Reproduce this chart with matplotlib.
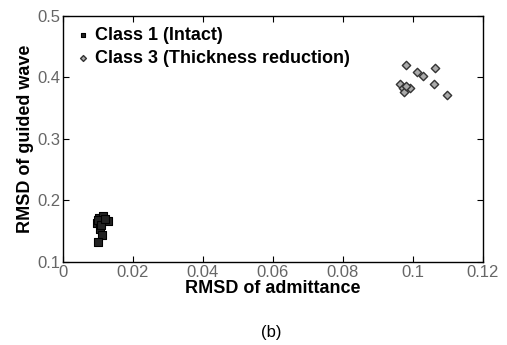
import matplotlib.pyplot as plt

plt.rcParams['font.family'] = ['Liberation Sans', 'DejaVu Sans']

# Class 1 (Intact)
c1_x = [0.0104, 0.0116, 0.0130, 0.0097, 0.0106, 0.0112, 0.0099, 0.0100, 0.0108, 0.0120]
c1_y = [0.172, 0.174, 0.166, 0.163, 0.154, 0.143, 0.132, 0.168, 0.160, 0.170]

# Class 3 (Thickness reduction)
c3_x = [0.0982, 0.1011, 0.1030, 0.1065, 0.1061, 0.1099, 0.0964, 0.0972, 0.0974, 0.0991, 0.0982]
c3_y = [0.420, 0.408, 0.402, 0.415, 0.389, 0.371, 0.390, 0.383, 0.376, 0.383, 0.386]

xticks = [0, 0.02, 0.04, 0.06, 0.08, 0.1, 0.12]
xticklabels = ['0', '0.02', '0.04', '0.06', '0.08', '0.1', '0.12']
yticks = [0.1, 0.2, 0.3, 0.4, 0.5]
yticklabels = ['0.1', '0.2', '0.3', '0.4', '0.5']

fig = plt.figure(figsize=(5.07, 3.45), dpi=100)
ax = fig.add_axes([0.124, 0.241, 0.828, 0.713])

ax.scatter(c1_x, c1_y, marker='s', s=26, c='#222222', edgecolors='black', linewidths=0.8,
           label='Class 1 (Intact)')
ax.scatter(c3_x, c3_y, marker='D', s=18, c='#aaaaaa', edgecolors='#333333', linewidths=1.0,
           label='Class 3 (Thickness reduction)')

ax.set_xlim(0, 0.12)
ax.set_ylim(0.1, 0.5)
ax.set_xticks(xticks)
ax.set_xticklabels(xticklabels)
ax.set_yticks(yticks)
ax.set_yticklabels(yticklabels)
ax.tick_params(direction='in', top=True, right=True, length=4, labelsize=12,
               labelcolor='#666666', pad=2)
for s in ax.spines.values():
    s.set_linewidth(1.0)

ax.set_xlabel('RMSD of admittance', fontsize=13, fontweight='bold', labelpad=0)
ax.set_ylabel('RMSD of guided wave', fontsize=13, fontweight='bold', labelpad=2)

ax.legend(loc='upper left', frameon=False, prop={'weight': 'bold', 'size': 13},
          handletextpad=0.2, borderaxespad=0.2, labelspacing=0.35, markerscale=0.7,
          handlelength=1.0, bbox_to_anchor=(0.0, 1.0))

fig.text(0.535, 0.035, '(b)', ha='center', va='center', fontsize=12)

fig.savefig('out.png', dpi=100)
